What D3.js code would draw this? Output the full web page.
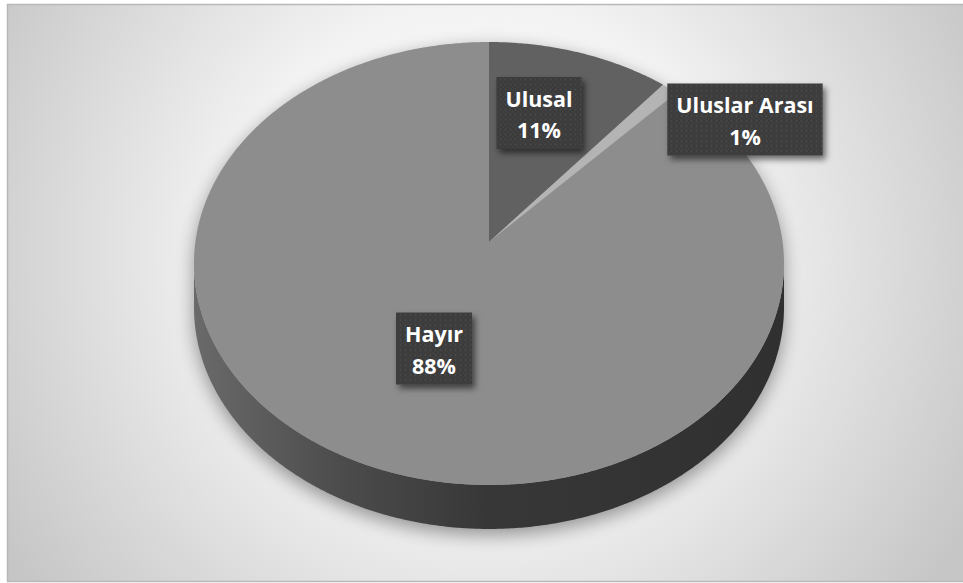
<!DOCTYPE html>
<html><head><meta charset="utf-8">
<script src="https://cdn.jsdelivr.net/npm/d3@7"></script>
<style>html,body{margin:0;padding:0;background:#fff;overflow:hidden}</style>
</head><body><svg id="c" width="963" height="583"></svg>
<script>
// ---- data ----
const categories = ["Ulusal", "Uluslar Arası", "Hayır"];
const values = [11, 1, 88];
const percentLabels = ["11%", "1%", "88%"];

// ---- styles / layout ----
const sliceColors = ["#616161", "#b4b4b4", "#8d8d8d"];
const labelCenters = [[539, 113], [745, 119.5], [434, 348.5]];

const W = 963, H = 583;
const svg = d3.select("#c");
const defs = svg.append("defs");

// background radial gradient
const bg = defs.append("radialGradient").attr("id", "bg")
  .attr("gradientUnits", "userSpaceOnUse").attr("cx", 480).attr("cy", 250).attr("r", 560);
bg.append("stop").attr("offset", 0).attr("stop-color", "#ffffff");
bg.append("stop").attr("offset", 0.45).attr("stop-color", "#f2f2f2");
bg.append("stop").attr("offset", 1).attr("stop-color", "#c6c6c6");

const side = defs.append("linearGradient").attr("id", "side")
  .attr("gradientUnits", "userSpaceOnUse").attr("x1", 193).attr("x2", 784).attr("y1", 0).attr("y2", 0);
side.append("stop").attr("offset", 0).attr("stop-color", "#6a6a6a");
side.append("stop").attr("offset", 0.25).attr("stop-color", "#4c4c4c");
side.append("stop").attr("offset", 0.5).attr("stop-color", "#373737");
side.append("stop").attr("offset", 1).attr("stop-color", "#303030");

const blur = defs.append("filter").attr("id", "pshadow").attr("x", "-20%").attr("y", "-20%").attr("width", "140%").attr("height", "140%");
blur.append("feGaussianBlur").attr("stdDeviation", 9);

const ds = defs.append("filter").attr("id", "lshadow").attr("x", "-20%").attr("y", "-20%").attr("width", "150%").attr("height", "150%");
ds.append("feDropShadow").attr("dx", 3).attr("dy", 4).attr("stdDeviation", 3)
  .attr("flood-color", "#000").attr("flood-opacity", 0.55);

const pat = defs.append("pattern").attr("id", "dots").attr("patternUnits", "userSpaceOnUse")
  .attr("width", 5).attr("height", 5);
pat.append("rect").attr("width", 5).attr("height", 5).attr("fill", "#3b3b3b");
pat.append("circle").attr("cx", 1.5).attr("cy", 1.5).attr("r", 1).attr("fill", "#4a4a4a");
pat.append("circle").attr("cx", 4).attr("cy", 4).attr("r", 0.8).attr("fill", "#444");

// frame
svg.append("rect").attr("x", 7.5).attr("y", 4.5).attr("width", 962).attr("height", 577)
  .attr("fill", "url(#bg)").attr("stroke", "#b8b8b8").attr("stroke-width", 1.5);

// perspective projection of a disk
const cx = 489, cy = 242, k = 293.6, kb = 219.4, a = 0.097, depth = 44;
function proj(theta, rho = 1, dy = 0) {
  const X = rho * Math.sin(theta), Z = rho * Math.cos(theta), u = 1 + a * Z;
  return [cx + k * X / u, cy - kb * Z / u + dy];
}
function arcPts(t0, t1, dy = 0) {
  const n = Math.max(2, Math.ceil(Math.abs(t1 - t0) / 0.008));
  return d3.range(n + 1).map(i => proj(t0 + (t1 - t0) * i / n, 1, dy));
}
const line = d3.line();

const pie = d3.pie().sort(null).value(d => d)(values);

const thR = Math.PI / 2 + Math.asin(a), thL = 2 * Math.PI - thR;

// shadow
const sh = svg.append("g").attr("filter", "url(#pshadow)").attr("opacity", 0.38)
  .attr("transform", "translate(0,6)");
sh.append("path").attr("d", line(arcPts(0, 2 * Math.PI)) + "Z").attr("fill", "#000");
sh.append("path").attr("d", line(arcPts(0, 2 * Math.PI, depth)) + "Z").attr("fill", "#000");
sh.append("path").attr("d", line(arcPts(thR, thL).concat(arcPts(thL, thR, depth))) + "Z").attr("fill", "#000");

// sides
svg.append("g").selectAll("path").data(pie.filter(p => p.endAngle > thR && p.startAngle < thL))
  .join("path")
  .attr("d", p => {
    const t0 = Math.max(p.startAngle, thR), t1 = Math.min(p.endAngle, thL);
    return line(arcPts(t0, t1).concat(arcPts(t1, t0, depth))) + "Z";
  })
  .attr("fill", "url(#side)");

// top faces
svg.append("g").selectAll("path").data(pie).join("path")
  .attr("d", p => line([[cx, cy]].concat(arcPts(p.startAngle, p.endAngle))) + "Z")
  .attr("fill", (p, i) => sliceColors[i]);

// labels
const lg = svg.append("g").selectAll("g").data(pie).join("g")
  .attr("transform", (p, i) => `translate(${labelCenters[i][0]},${labelCenters[i][1]})`);
const font = "'Open Sans', 'DejaVu Sans', sans-serif";
lg.each(function (p, i) {
  const g = d3.select(this);
  const r = g.append("rect").attr("fill", "url(#dots)").attr("filter", "url(#lshadow)");
  const t1 = g.append("text").attr("text-anchor", "middle").attr("y", -6.5)
    .attr("font-family", font).attr("font-weight", 700).attr("font-size", 21.5).attr("fill", "#fff")
    .text(categories[i]);
  const t2 = g.append("text").attr("text-anchor", "middle").attr("y", 25)
    .attr("font-family", font).attr("font-weight", 700).attr("font-size", 21.5).attr("fill", "#fff")
    .text(percentLabels[i]);
  const w = Math.max(t1.node().getComputedTextLength(), t2.node().getComputedTextLength()) + 18;
  r.attr("x", -w / 2).attr("y", -36).attr("width", w).attr("height", 72);
});
</script></body></html>
